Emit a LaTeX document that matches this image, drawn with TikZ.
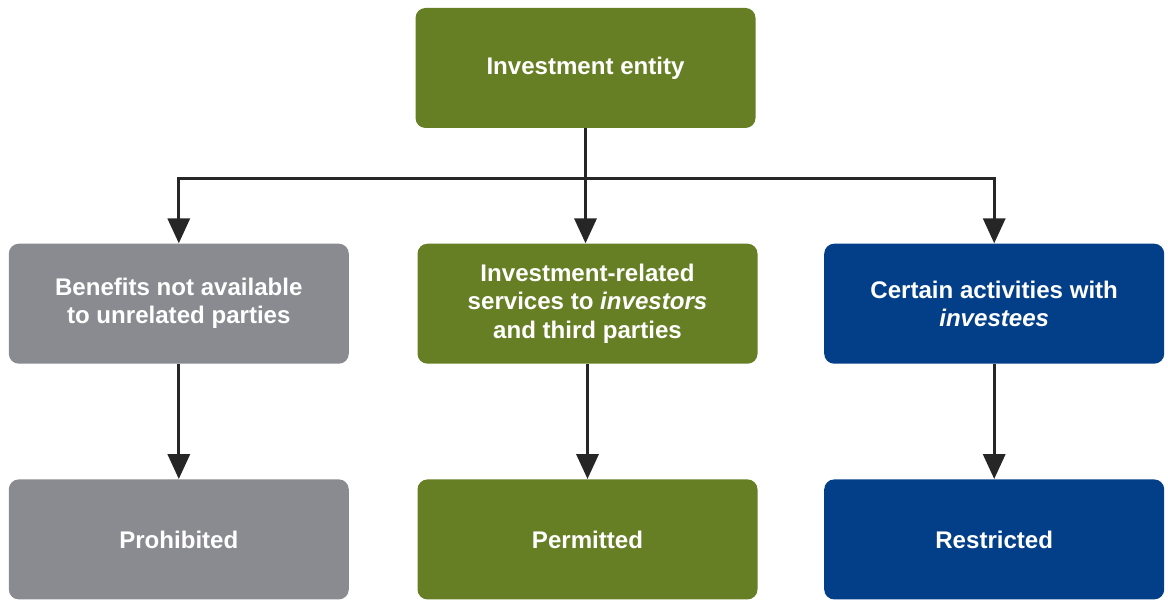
\documentclass[tikz,border=0pt]{standalone}
\usepackage{fontspec}
\setmainfont{Liberation Sans}
\usetikzlibrary{arrows.meta,positioning}
\definecolor{entgreen}{HTML}{667F24}
\definecolor{entgray}{HTML}{8A8B90}
\definecolor{entblue}{HTML}{033F88}

\tikzset{
  box/.style={rounded corners=0.2cm, minimum width=6.8cm, minimum height=2.4cm,
    text=white, font=\fontsize{13.7}{16}\selectfont\bfseries, align=center, inner sep=0pt},
  link/.style={line width=1.9pt, draw=black!85, -{Triangle[length=0.5cm,width=0.44cm]}}
}

\begin{document}
\begin{tikzpicture}
    \useasboundingbox (0,0) rectangle (23.36,-12.02);

    % Top
    \node[box, fill=entgreen] (entity) at (11.71,-1.36) {Investment entity};

    % Middle row
    \node[box, fill=entgreen, below=2.3cm of entity.south, anchor=north, xshift=0.04cm] (services)
        {Investment-related\\services to \textit{investors}\\and third parties};
    \node[box, fill=entgray, left=1.36cm of services] (benefits)
        {Benefits not available\\to unrelated parties};
    \node[box, fill=entblue, right=1.32cm of services] (activities)
        {Certain activities with\\\textit{investees}};

    % Bottom row
    \node[box, fill=entgray, below=2.3cm of benefits] (prohibited) {Prohibited};
    \node[box, fill=entgreen, below=2.3cm of services] (permitted) {Permitted};
    \node[box, fill=entblue, below=2.3cm of activities] (restricted) {Restricted};

    % Connectors
    \draw[link] (entity.south) -- ++(0,-1) -| (benefits.north);
    \draw[link] (entity.south) -- ++(0,-1) -| (activities.north);
    \draw[link] (entity.south) -- (entity.south |- services.north);
    \draw[link] (benefits) -- (prohibited);
    \draw[link] (services) -- (permitted);
    \draw[link] (activities) -- (restricted);
\end{tikzpicture}
\end{document}
